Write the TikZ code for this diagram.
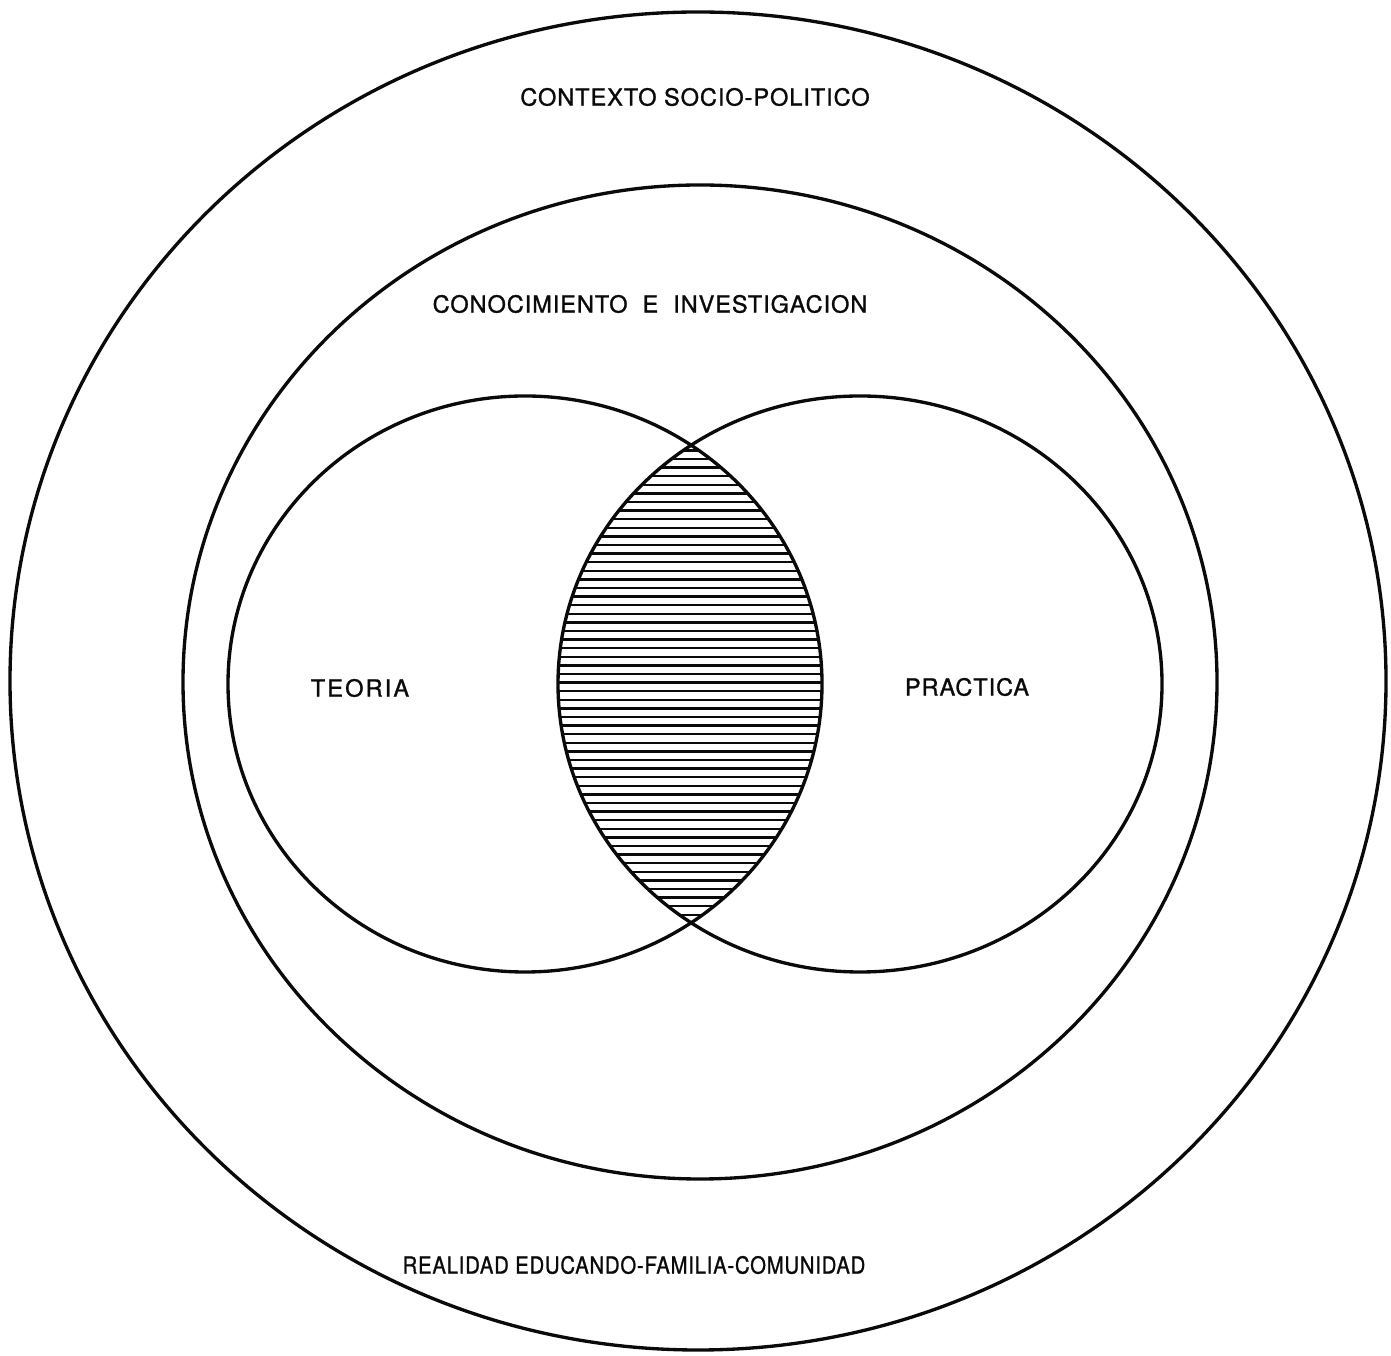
\documentclass[tikz,border=0pt]{standalone}
\usepackage{fontspec}
\setmainfont{TeX Gyre Heros}[LetterSpace=4,FakeBold=1.2]
\usepackage{tikz}
\usetikzlibrary{positioning}
\definecolor{InkBlack}{RGB}{10,10,10}
\tikzset{
  ring/.style={draw=InkBlack,line width=1.9pt},
  hatchline/.style={draw=InkBlack,line width=1.35pt},
  caption/.style={inner sep=0pt,font=\fontsize{13.4}{15}\selectfont,text=InkBlack}
}

\begin{document}
\begin{tikzpicture}[x=0.02cm,y=0.02cm]
\useasboundingbox (0,0) rectangle (1391,1355);
\draw[ring] (698,674) ellipse [x radius=688, y radius=669];
\draw[ring] (700,673) ellipse [x radius=517, y radius=497];

% shaded overlap of the two inner circles
\begin{scope}
\clip (525,671) ellipse [x radius=297, y radius=288];
\clip (860,671) ellipse [x radius=302, y radius=288];
\foreach \y in {380,388.6,...,970}
  \draw[hatchline] (540,\y) -- (840,\y);
\end{scope}
\draw[ring] (525,671) ellipse [x radius=297, y radius=288];
\draw[ring] (860,671) ellipse [x radius=302, y radius=288];

\node[caption] (contexto) at (695,1258) {CONTEXTO SOCIO-POLITICO};
\node[caption] (conocimiento) at (650,1051) {CONOCIMIENTO\ \ E\ \ INVESTIGACION};
\node[caption] (teoria) at (360,667) {\addfontfeature{LetterSpace=9}TEORIA};
\node[caption] (practica) at (967,668) {PRACTICA};
\node[caption, xscale=0.86, transform shape] (realidad) at (634,90) {REALIDAD EDUCANDO-FAMILIA-COMUNIDAD};
\end{tikzpicture}
\end{document}
